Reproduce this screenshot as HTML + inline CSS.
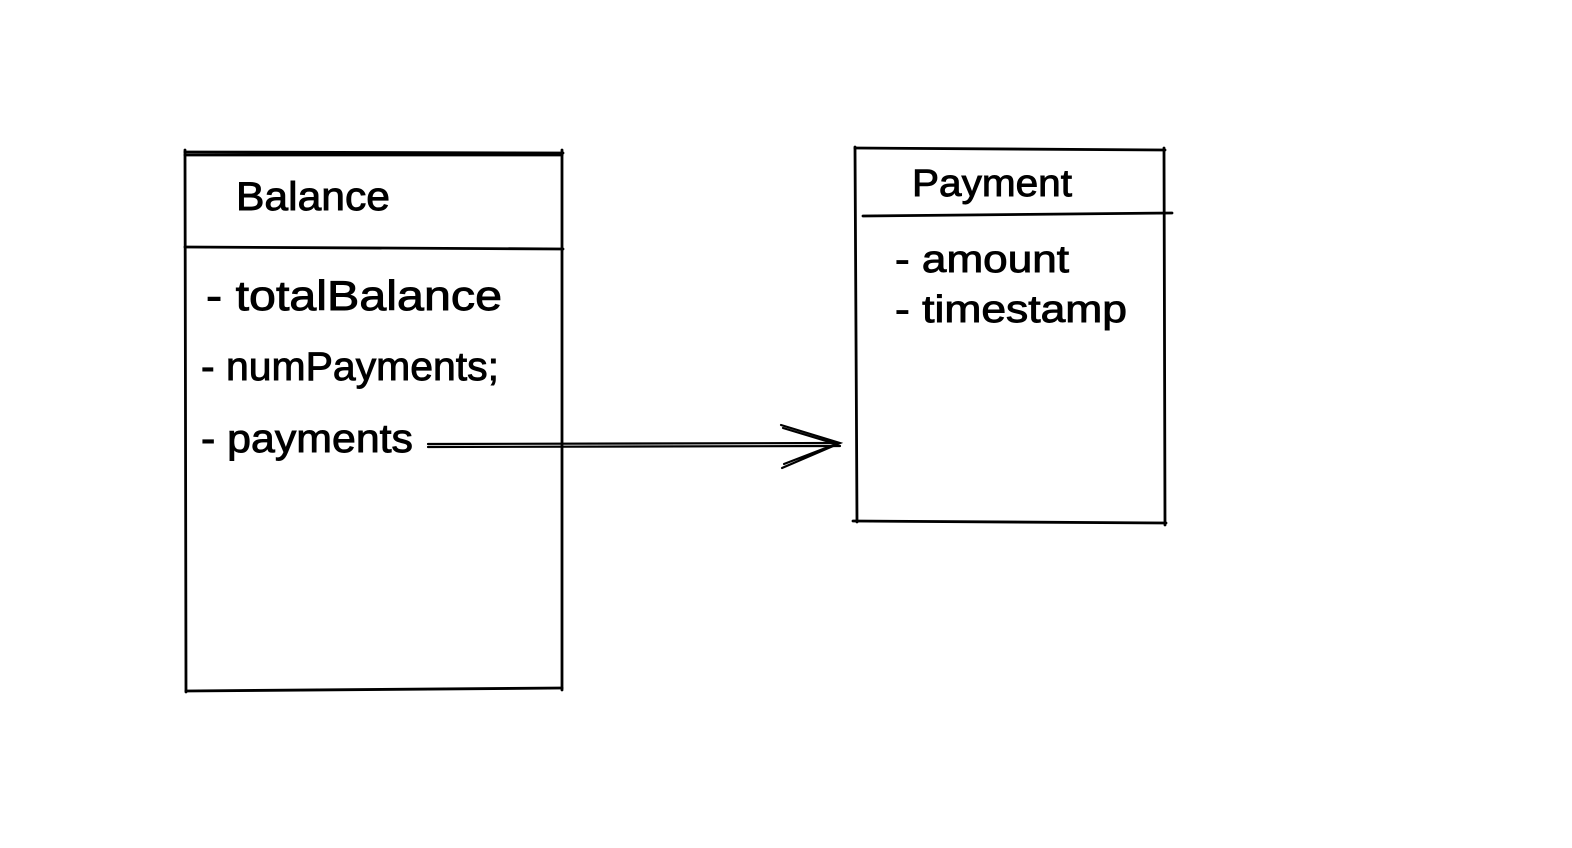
<!DOCTYPE html>
<html><head><style>
html,body{margin:0;padding:0;background:#fff;}
svg{display:block}
text{font-family:"Liberation Sans",sans-serif;fill:#000;stroke:#000;stroke-width:0.9;}
</style></head><body>
<svg width="1572" height="848" viewBox="0 0 1572 848" xmlns="http://www.w3.org/2000/svg">
<g fill="none" stroke="#000" stroke-width="2.8" stroke-linecap="round">
<path d="M185 152 L563 153 M185 155 L562 155"/>
<path d="M185 150 L186 692 M562 150 L562 690"/>
<path d="M186 691 L562 688"/>
<path d="M185 247 L563 249"/>
<path d="M855 148 L1165 150"/>
<path d="M855 147 L857 522 M1164 148 L1165 525"/>
<path d="M853 521 L1166 523"/>
<path d="M863 216 L1172 213"/>
<path d="M428 444 L838 443 M428 447 L840 446" stroke-width="2.2"/>
<path d="M781 425 L840 443 L782 468 M783 428 L836 444 L784 464" stroke-width="2.2"/>
</g>
<text x="236" y="210" font-size="40" textLength="154" lengthAdjust="spacingAndGlyphs">Balance</text>
<text x="206" y="310" font-size="42" textLength="296" lengthAdjust="spacingAndGlyphs">- totalBalance</text>
<text x="201" y="380" font-size="40" textLength="298" lengthAdjust="spacingAndGlyphs">- numPayments;</text>
<text x="201" y="452" font-size="40" textLength="212" lengthAdjust="spacingAndGlyphs">- payments</text>
<text x="912" y="196" font-size="38" textLength="160" lengthAdjust="spacingAndGlyphs">Payment</text>
<text x="895" y="272" font-size="38" textLength="174" lengthAdjust="spacingAndGlyphs">- amount</text>
<text x="895" y="322" font-size="38" textLength="232" lengthAdjust="spacingAndGlyphs">- timestamp</text>
</svg>
</body></html>
